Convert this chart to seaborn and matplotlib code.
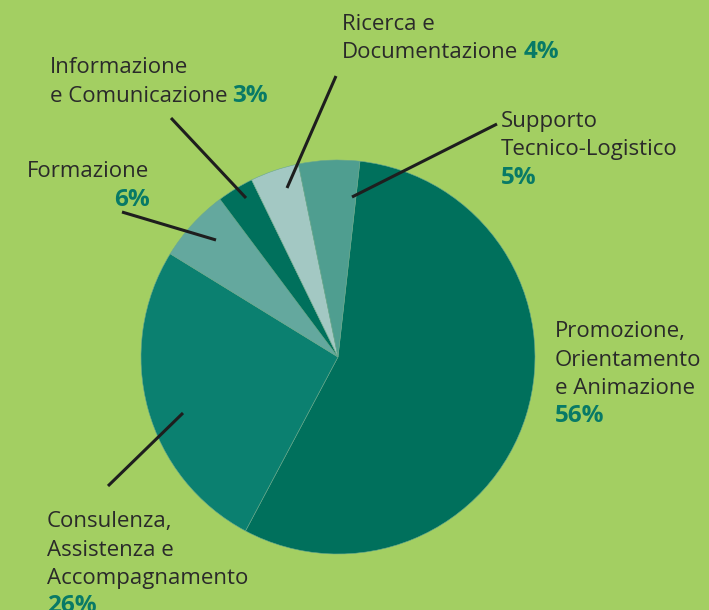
"""
Pie chart of activity shares, recreated with seaborn + matplotlib.
"""

import matplotlib
matplotlib.use("Agg")
import matplotlib.pyplot as plt
import seaborn as sns

# Data
labels = [
    "Promozione,\nOrientamento\ne Animazione",
    "Consulenza,\nAssistenza e\nAccompagnamento",
    "Formazione",
    "Informazione\ne Comunicazione",
    "Ricerca e\nDocumentazione",
    "Supporto\nTecnico-Logistico",
]
values = [56, 26, 6, 3, 4, 5]
pct_labels = ["56%", "26%", "6%", "3%", "4%", "5%"]
colors = ["#00705c", "#0b8070", "#64a89e", "#00705c", "#a3c8c3", "#4f9e90"]

BG = "#a3cf62"
TEXT = "#2a2a2a"
PCT = "#087a66"
H = 610  # figure height in px, used to flip y

sns.set_theme(style="white")
plt.rcParams["font.family"] = ["Open Sans", "DejaVu Sans"]

fig = plt.figure(figsize=(7.09, 6.10), dpi=100)
fig.patch.set_facecolor(BG)
ax = fig.add_axes([0, 0, 1, 1])
ax.set_facecolor(BG)

ax.pie(values, colors=colors, startangle=83.6, counterclock=False,
       center=(338, H - 357), radius=197,
       wedgeprops=dict(linewidth=0.4, edgecolor="#6aa88f"))
ax.set_xlim(0, 709)
ax.set_ylim(0, H)
ax.axis("off")

FS = 16.0
FS_PCT = 17.5
LS = 28.5  # line spacing in px

# leader lines (pixel coords, y from top)
leaders = [
    None,
    ((183, 413), (108, 486)),
    ((216, 240), (122, 212)),
    ((246, 198), (171, 118)),
    ((287, 188), (336, 76)),
    ((352, 197), (497, 124)),
]
for seg in leaders:
    if seg is None:
        continue
    (x0, y0), (x1, y1) = seg
    ax.plot([x0, x1], [H - y0, H - y1], color="#1e1e1e", lw=2.2,
            solid_capstyle="butt")

fig.canvas.draw()
renderer = fig.canvas.get_renderer()


def put_text(x, y, s, size=FS, **kw):
    return ax.text(x, H - y, s, fontsize=size, va="baseline", **kw)


def label_block(x, y, lines, pct, pct_mode):
    """Draw stacked lines; pct is inline after the last line or on a new line."""
    last = None
    for i, line in enumerate(lines):
        last = put_text(x, y + i * LS, line, color=TEXT)
    if pct_mode == "inline":
        bb = last.get_window_extent(renderer)
        put_text(bb.x1 + 5, y + (len(lines) - 1) * LS, pct, size=FS_PCT,
                 color=PCT, fontweight="bold")
    elif pct_mode == "below":
        put_text(x, y + len(lines) * LS, pct, size=FS_PCT,
                 color=PCT, fontweight="bold")
    else:
        put_text(pct_mode, y + len(lines) * LS, pct, size=FS_PCT,
                 color=PCT, fontweight="bold", ha="right")


label_block(555, 337, labels[0].split("\n"), pct_labels[0], "below")
label_block(47, 527, labels[1].split("\n"), pct_labels[1], "below")
label_block(27, 177, labels[2].split("\n"), pct_labels[2], 150)
label_block(50, 73, labels[3].split("\n"), pct_labels[3], "inline")
label_block(342, 30, labels[4].split("\n"), pct_labels[4], "inline")
label_block(501, 127, labels[5].split("\n"), pct_labels[5], "below")

fig.savefig("out.png", dpi=100, facecolor=BG)
